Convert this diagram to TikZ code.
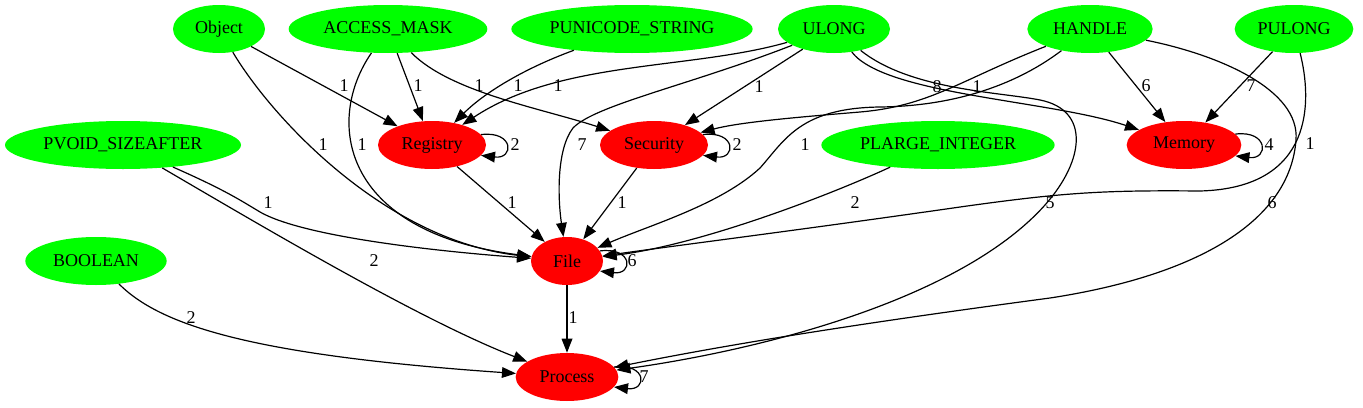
\documentclass[tikz,border=0pt]{standalone}
\usepackage{fontspec}
\setmainfont{Liberation Serif}
\usetikzlibrary{shapes.geometric,arrows.meta}
\definecolor{typgreen}{RGB}{0,255,0}
\definecolor{apired}{RGB}{255,0,0}

\begin{document}
\begin{tikzpicture}[x=0.75pt, y=-0.75pt,
	every node/.style={font=\fontsize{13.5}{15}\selectfont},
	typ/.style={ellipse, fill=typgreen, minimum height=36pt, inner sep=0pt},
	api/.style={ellipse, fill=apired, minimum height=36pt, inner sep=0pt},
	arr/.style={-{Triangle[length=10.5pt,width=8pt]}, line width=0.9pt},
	lbl/.style={inner sep=0pt}]
			%%%%% START %%%%%
			\useasboundingbox (0,0) rectangle (1363,407);
			
			% argument types
			\node[typ, minimum width=69pt] (object) at (219,29) {Object};
			\node[typ, minimum width=149pt] (accmask) at (388,29) {ACCESS\_MASK};
			\node[typ, minimum width=181pt] (punicode) at (632,29) {PUNICODE\_STRING};
			\node[typ, minimum width=84pt] (ulong) at (834,29) {ULONG};
			\node[typ, minimum width=94pt] (handle) at (1090,29) {HANDLE};
			\node[typ, minimum width=89pt] (pulong) at (1294,29) {PULONG};
			\node[typ, minimum width=177pt] (pvoid) at (123,145) {PVOID\_SIZEAFTER};
			\node[typ, minimum width=175pt] (plarge) at (938,145) {PLARGE\_INTEGER};
			\node[typ, minimum width=106pt] (boolean) at (96,261) {BOOLEAN};
			
			% api groups
			\node[api, minimum width=81pt] (registry) at (432,145) {Registry};
			\node[api, minimum width=81pt] (security) at (654,145) {Security};
			\node[api, minimum width=86pt] (memory) at (1184,145) {Memory};
			\node[api, minimum width=54pt] (file) at (567,261) {File};
			\node[api, minimum width=77pt] (process) at (567,377) {Process};
			
			% from the top row
			\draw[arr] (object) -- (registry);
			\node[lbl] at (344,86) {1};
			\draw[arr] (object) .. controls (272,118) and (385,240) .. (file);
			\node[lbl] at (323,145) {1};
			
			\draw[arr] (accmask) -- (registry);
			\node[lbl] at (418,86) {1};
			\draw[arr] (accmask) .. controls (325,120) and (340,232) .. (file);
			\node[lbl] at (362,145) {1};
			\draw[arr] (accmask) .. controls (450,92) and (540,108) .. (security);
			\node[lbl] at (479,86) {1};
			
			\draw[arr] (punicode) .. controls (520,70) and (482,95) .. (registry);
			\node[lbl] at (518,86) {1};
			
			\draw[arr] (ulong) .. controls (690,70) and (560,60) .. (registry);
			\node[lbl] at (558,86) {1};
			\draw[arr] (ulong) .. controls (690,85) and (595,105) .. (573,128) .. controls (556,150) and (558,200) .. (file);
			\node[lbl] at (582,145) {7};
			\draw[arr] (ulong) -- (security);
			\node[lbl] at (759,87) {1};
			\draw[arr] (ulong) .. controls (885,95) and (1050,100) .. (memory);
			\node[lbl] at (937,87) {8};
			\draw[arr] (ulong) .. controls (910,90) and (1000,92) .. (1040,100) .. controls (1090,110) and (1085,160) .. (1045,205) .. controls (960,300) and (760,350) .. (process);
			\node[lbl] at (1050,203) {5};
			
			\draw[arr] (handle) .. controls (960,80) and (930,106) .. (860,112) .. controls (800,117) and (740,122) .. (security);
			\node[lbl] at (977,87) {1};
			\draw[arr] (handle) .. controls (1020,82) and (960,106) .. (880,107) .. controls (800,108) and (785,140) .. (760,168) .. controls (720,205) and (650,225) .. (file);
			\node[lbl] at (805,145) {1};
			\draw[arr] (handle) -- (memory);
			\node[lbl] at (1146,86) {6};
			\draw[arr] (handle) .. controls (1220,55) and (1300,90) .. (1296,140) .. controls (1290,220) and (1200,275) .. (1050,298) .. controls (900,318) and (750,340) .. (process);
			\node[lbl] at (1272,203) {6};
			
			\draw[arr] (pulong) -- (memory);
			\node[lbl] at (1251,86) {7};
			\draw[arr] (pulong) .. controls (1312,100) and (1315,188) .. (1200,191) .. controls (1100,190) and (1060,193) .. (960,207) .. controls (800,230) and (680,245) .. (file);
			\node[lbl] at (1310,144) {1};
			
			% second row
			\draw[arr] (registry) -- (file);
			\node[lbl] at (512,203) {1};
			\draw[arr] (security) -- (file);
			\node[lbl] at (622,203) {1};
			\draw[arr] (plarge) .. controls (830,195) and (700,245) .. (file);
			\node[lbl] at (855,203) {2};
			\draw[arr] (pvoid) .. controls (225,190) and (240,200) .. (260,212) .. controls (300,235) and (420,250) .. (file);
			\node[lbl] at (268,203) {1};
			\draw[arr] (pvoid) .. controls (260,225) and (420,320) .. (process);
			\node[lbl] at (374,261) {2};
			
			% lower rows
			\draw[arr] (boolean) .. controls (160,325) and (250,355) .. (process);
			\node[lbl] at (191,318) {2};
			\draw[arr] (file) -- (process);
			\node[lbl] at (573,318) {1};
			
			% loops
			\draw[arr] (registry.12) .. controls +(25pt,3pt) and +(25pt,-3pt) .. (registry.-12);
			\node[lbl] at (515,145) {2};
			\draw[arr] (security.12) .. controls +(25pt,3pt) and +(25pt,-3pt) .. (security.-12);
			\node[lbl] at (737,145) {2};
			\draw[arr] (memory.12) .. controls +(25pt,3pt) and +(25pt,-3pt) .. (memory.-12);
			\node[lbl] at (1269,145) {4};
			\draw[arr] (file.17) .. controls +(25pt,3pt) and +(25pt,-3pt) .. (file.-17);
			\node[lbl] at (632,261) {6};
			\draw[arr] (process.12) .. controls +(25pt,3pt) and +(25pt,-3pt) .. (process.-12);
			\node[lbl] at (644,377) {7};
			%%%%% END %%%%%
\end{tikzpicture}
\end{document}
